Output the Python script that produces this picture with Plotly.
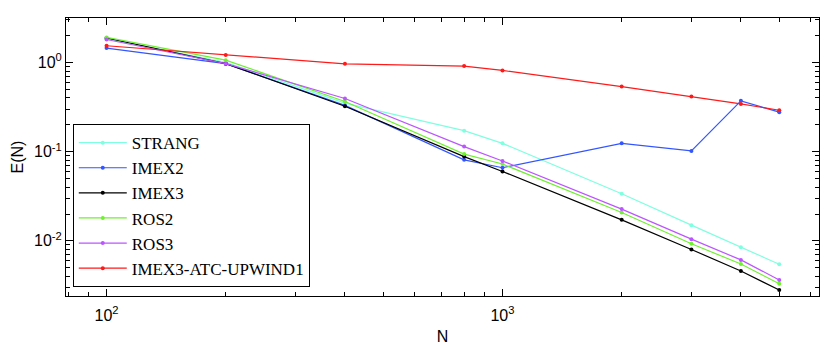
import numpy as np
import plotly.graph_objects as go

N = [100, 200, 400, 800, 1000, 2000, 3000, 4000, 5000]

strang = [1.85, 1.0, 0.35, 0.172, 0.124, 0.0337, 0.0150, 0.0085, 0.00547]
imex2 = [1.45, 0.97, 0.33, 0.081, 0.066, 0.124, 0.102, 0.371, 0.277]
imex3 = [1.88, 0.97, 0.323, 0.088, 0.060, 0.0172, 0.0080, 0.0046, 0.00281]
ros2 = [1.91, 1.06, 0.365, 0.094, 0.0727, 0.0208, 0.0093, 0.0055, 0.00331]
ros3 = [1.81, 0.97, 0.394, 0.114, 0.0786, 0.0227, 0.01045, 0.00612, 0.00365]
upwind = [1.54, 1.21, 0.966, 0.91, 0.813, 0.537, 0.415, 0.343, 0.291]

x_ticks = [100, 1000]
x_ticktext = ["10<sup>2</sup>", "10<sup>3</sup>"]
y_ticks = [0.01, 0.1, 1]
y_ticktext = ["10<sup>-2</sup>", "10<sup>-1</sup>", "10<sup>0</sup>"]

# minor tick positions (2..9 within each decade)
x_minor = [m * 10 ** d for d in (1, 2, 3) for m in range(2, 10)]
y_minor = [m * 10.0 ** d for d in (-3, -2, -1, 0) for m in range(2, 10)]

series = [
    ("STRANG", strang, "#7fffdf"),
    ("IMEX2", imex2, "#3355ff"),
    ("IMEX3", imex3, "#000000"),
    ("ROS2", ros2, "#70f030"),
    ("ROS3", ros3, "#bb55ff"),
    ("IMEX3-ATC-UPWIND1", upwind, "#ff1a1a"),
]

fig = go.Figure()
for name, vals, col in series:
    fig.add_trace(go.Scatter(
        x=N, y=vals, name=name, mode="lines+markers",
        line=dict(color=col, width=1.2),
        marker=dict(color=col, size=4),
    ))

sans = "Liberation Sans"
axis_common = dict(
    type="log", showgrid=False, zeroline=False, automargin=False,
    showline=True, linecolor="black", linewidth=1, mirror="ticks",
    ticks="inside", ticklen=7, tickcolor="black",
    tickfont=dict(family=sans, size=16, color="black"),
)

fig.update_xaxes(axis_common, range=[np.log10(79), np.log10(6300)],
                 tickvals=x_ticks, ticktext=x_ticktext, ticklabelstandoff=5,
                 minor=dict(ticks="inside", ticklen=4, tickcolor="black",
                            showgrid=False, tickvals=x_minor),
                 title=dict(text="N", standoff=12,
                            font=dict(family=sans, size=16, color="black")))
fig.update_yaxes(axis_common, range=[np.log10(0.00241), np.log10(3.15)],
                 tickvals=y_ticks, ticktext=y_ticktext,
                 minor=dict(ticks="inside", ticklen=4, tickcolor="black",
                            showgrid=False, tickvals=y_minor),
                 title=dict(text="E(N)", standoff=6,
                            font=dict(family=sans, size=16, color="black")))

fig.update_layout(
    width=830, height=345,
    margin=dict(l=66, r=11, t=18, b=49),
    plot_bgcolor="white", paper_bgcolor="white",
    legend=dict(
        x=0.009, y=0.032, xanchor="left", yanchor="bottom",
        bordercolor="black", borderwidth=1, bgcolor="white",
        font=dict(family="Liberation Serif", size=17, color="black"),
        tracegroupgap=0, itemwidth=48,
    ),
)

fig.write_html("out.html", config={"displayModeBar": False},
               post_script="document.body.style.margin='0';")
